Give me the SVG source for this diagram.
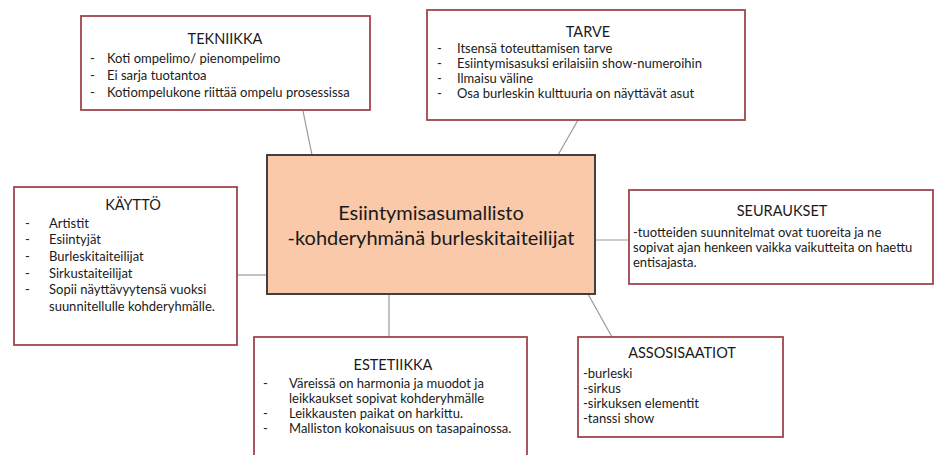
<svg xmlns="http://www.w3.org/2000/svg" width="936" height="455" viewBox="0 0 936 455">
<style>
.box{fill:#ffffff;stroke:#a0454d;stroke-width:1.8}
.center{fill:#f9c9a9;stroke:#404040;stroke-width:2}
.t{font-family:Lato,"Liberation Sans",sans-serif;font-size:13px;fill:#1a1a1a}
.h{font-family:Lato,"Liberation Sans",sans-serif;font-size:14.5px;fill:#1a1a1a;text-anchor:middle}
.c{font-family:Lato,"Liberation Sans",sans-serif;font-size:20px;fill:#1a1a1a;text-anchor:middle}
.ln{stroke:#999999;stroke-width:1.2;fill:none}
</style>
<rect width="936" height="455" fill="#ffffff"/>
<g id="connectors">
<line class="ln" x1="303" y1="111" x2="312" y2="155"/>
<line class="ln" x1="578" y1="120" x2="558" y2="155"/>
<line class="ln" x1="237" y1="275" x2="267" y2="275"/>
<line class="ln" x1="595" y1="240" x2="629" y2="240"/>
<line class="ln" x1="389" y1="294" x2="389" y2="337"/>
<line class="ln" x1="588" y1="294" x2="612" y2="337"/>
</g>
<g id="center">
<rect class="center" x="267" y="155" width="328" height="139"/>
<text class="c" x="431" y="220">Esiintymisasumallisto</text>
<text class="c" x="431" y="245">-kohderyhmänä burleskitaiteilijat</text>
</g>
<g id="tekniikka">
<rect class="box" x="81" y="16" width="289" height="94"/>
<text class="h" x="225" y="44">TEKNIIKKA</text>
<text class="t" x="90" y="63">-</text><text class="t" x="107" y="63">Koti ompelimo/ pienompelimo</text>
<text class="t" x="90" y="80">-</text><text class="t" x="107" y="80">Ei sarja tuotantoa</text>
<text class="t" x="90" y="97">-</text><text class="t" x="107" y="97">Kotiompelukone riittää ompelu prosessissa</text>
</g>
<g id="tarve">
<rect class="box" x="427" y="10" width="318" height="110"/>
<text class="h" x="588" y="37">TARVE</text>
<text class="t" x="437" y="53">-</text><text class="t" x="457" y="53">Itsensä toteuttamisen tarve</text>
<text class="t" x="437" y="68">-</text><text class="t" x="457" y="68">Esiintymisasuksi erilaisiin show-numeroihin</text>
<text class="t" x="437" y="83">-</text><text class="t" x="457" y="83">Ilmaisu väline</text>
<text class="t" x="437" y="98">-</text><text class="t" x="457" y="98">Osa burleskin kulttuuria on näyttävät asut</text>
</g>
<g id="kaytto">
<rect class="box" x="14" y="187" width="223" height="158"/>
<text class="h" x="133" y="210">KÄYTTÖ</text>
<text class="t" x="25" y="228">-</text><text class="t" x="49" y="228">Artistit</text>
<text class="t" x="25" y="244">-</text><text class="t" x="49" y="244">Esiintyjät</text>
<text class="t" x="25" y="261">-</text><text class="t" x="49" y="261">Burleskitaiteilijat</text>
<text class="t" x="25" y="278">-</text><text class="t" x="49" y="278">Sirkustaiteilijat</text>
<text class="t" x="25" y="294">-</text><text class="t" x="49" y="294">Sopii näyttävyytensä vuoksi</text>
<text class="t" x="49" y="311">suunnitellulle kohderyhmälle.</text>
</g>
<g id="seuraukset">
<rect class="box" x="629" y="190" width="304" height="94"/>
<text class="h" x="782" y="216">SEURAUKSET</text>
<text class="t" x="633" y="237">-tuotteiden suunnitelmat ovat tuoreita ja ne</text>
<text class="t" x="633" y="252">sopivat ajan henkeen vaikka vaikutteita on haettu</text>
<text class="t" x="633" y="267">entisajasta.</text>
</g>
<g id="estetiikka">
<rect class="box" x="254" y="337" width="273" height="121"/>
<text class="h" x="393" y="370">ESTETIIKKA</text>
<text class="t" x="263" y="388">-</text><text class="t" x="289" y="388">Väreissä on harmonia ja muodot ja</text>
<text class="t" x="289" y="403">leikkaukset sopivat kohderyhmälle</text>
<text class="t" x="263" y="418">-</text><text class="t" x="289" y="418">Leikkausten paikat on harkittu.</text>
<text class="t" x="263" y="433">-</text><text class="t" x="289" y="433">Malliston kokonaisuus on tasapainossa.</text>
</g>
<g id="assosisaatiot">
<rect class="box" x="578" y="337" width="205" height="100"/>
<text class="h" x="682" y="358">ASSOSISAATIOT</text>
<text class="t" x="583" y="378">-burleski</text>
<text class="t" x="583" y="393">-sirkus</text>
<text class="t" x="583" y="408">-sirkuksen elementit</text>
<text class="t" x="583" y="423">-tanssi show</text>
</g>
</svg>
